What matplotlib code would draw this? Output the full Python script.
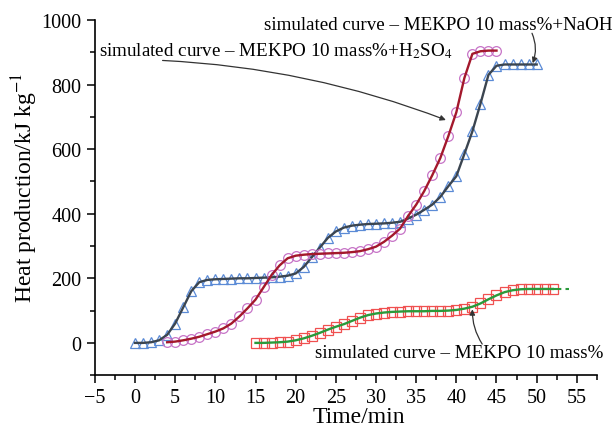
import numpy as np
import matplotlib.pyplot as plt
from matplotlib.ticker import MultipleLocator

plt.rcParams['font.family'] = ['Liberation Serif', 'DejaVu Serif']
plt.rcParams['mathtext.fontset'] = 'stix'

# MEKPO 10 mass% + NaOH
t_naoh = list(range(0, 51))
q_naoh = [0, 0, 2, 8, 25, 60, 110, 160, 188, 195, 197, 198, 199, 200, 200, 201, 202,
          203, 205, 208, 215, 235, 265, 295, 325, 345, 357, 363, 366, 368, 369, 370,
          372, 375, 385, 397, 412, 428, 452, 485, 516, 585, 655, 740, 830, 858, 862,
          862, 862, 862, 862]

# MEKPO 10 mass% + H2SO4
t_acid = list(range(4, 46))
q_acid = [2, 4, 8, 13, 19, 27, 35, 45, 60, 82, 107, 134, 172, 210, 240, 262, 270, 273,
          275, 276, 277, 278, 279, 281, 284, 290, 298, 313, 332, 354, 393, 428, 470,
          519, 572, 640, 714, 820, 895, 903, 905, 905]

# MEKPO 10 mass%
t_pure = list(range(15, 53))
q_pure = [0, 0, 1, 2, 4, 8, 14, 22, 31, 41, 50, 58, 68, 78, 86, 91, 94, 96, 97, 98, 98,
          98, 99, 99, 100, 102, 106, 112, 122, 135, 147, 157, 163, 166, 167, 167, 167, 167]
t_pure_tail = [52, 54]
q_pure_tail = [167, 167]

fig, ax = plt.subplots(figsize=(6.16, 4.27), dpi=100)
fig.subplots_adjust(left=0.154, right=0.969, bottom=0.119, top=0.951)

ax.plot(t_naoh, q_naoh, linestyle='none', marker='^', markersize=7, mfc='none',
        mec='#5b8bd6', mew=0.9)
ax.plot(t_naoh, q_naoh, color='#3b4550', lw=1.7)

ax.plot(t_acid, q_acid, linestyle='none', marker='o', markersize=7, mfc='none',
        mec='#c774c7', mew=0.9)
ax.plot(t_acid, q_acid, color='#a3182c', lw=1.7)

ax.plot(t_pure, q_pure, linestyle='none', marker='s', markersize=6.5, mfc='none',
        mec='#f05050', mew=0.9)
ax.plot(t_pure, q_pure, color='#2a9a3a', lw=1.7)
ax.plot(t_pure_tail, q_pure_tail, color='#2a9a3a', lw=1.5, ls=(0, (4, 2)))

fs = 13.7
# patchA=None so the arrows start right at the text edge
arrow = dict(arrowstyle='-|>', color='#333333', lw=0.9, mutation_scale=8,
             shrinkA=0, shrinkB=0, patchA=None)
ax.annotate('simulated curve \u2013 MEKPO 10 mass%+H$_2$SO$_4$', xy=(38.7, 690),
            xytext=(-4.5, 905), ha='left', va='center', fontsize=fs,
            arrowprops=dict(arrow, connectionstyle='arc3,rad=-0.08',
                            relpos=(0.18, 0.0)))
ax.annotate('simulated curve \u2013 MEKPO 10 mass%+NaOH', xy=(49.5, 866),
            xytext=(59.4, 985), ha='right', va='center', fontsize=fs,
            annotation_clip=False,
            arrowprops=dict(arrow, connectionstyle='arc3,rad=-0.2',
                            relpos=(0.77, 0.0)))
ax.annotate('simulated curve \u2013 MEKPO 10 mass%', xy=(42, 104),
            xytext=(58.3, -30), ha='right', va='center', fontsize=fs,
            arrowprops=dict(arrow, connectionstyle='arc3,rad=-0.15',
                            relpos=(0.58, 1.0)))

ax.set_xlim(-5, 57.5)
ax.set_ylim(-100, 1000)
ax.xaxis.set_major_locator(MultipleLocator(5))
ax.xaxis.set_minor_locator(MultipleLocator(2.5))
ax.yaxis.set_major_locator(MultipleLocator(200))
ax.yaxis.set_minor_locator(MultipleLocator(100))
ax.set_xticks(np.arange(-5, 56, 5))
ax.set_xticklabels(['\u22125'] + [str(v) for v in range(0, 56, 5)])
ax.tick_params(which='major', direction='out', length=6, width=1.1, labelsize=14.5)
ax.tick_params(which='minor', direction='out', length=3.5, width=1.1)
for s in ['top', 'right']:
    ax.spines[s].set_visible(False)
for s in ['left', 'bottom']:
    ax.spines[s].set_linewidth(1.2)

ax.set_xlabel('Time/min', fontsize=17)
ax.set_ylabel('Heat production/kJ kg$^{-1}$', fontsize=17)
ax.xaxis.set_label_coords(0.525, -0.088)
ax.yaxis.set_label_coords(-0.11, 0.53)

fig.savefig('out.png', dpi=100)
